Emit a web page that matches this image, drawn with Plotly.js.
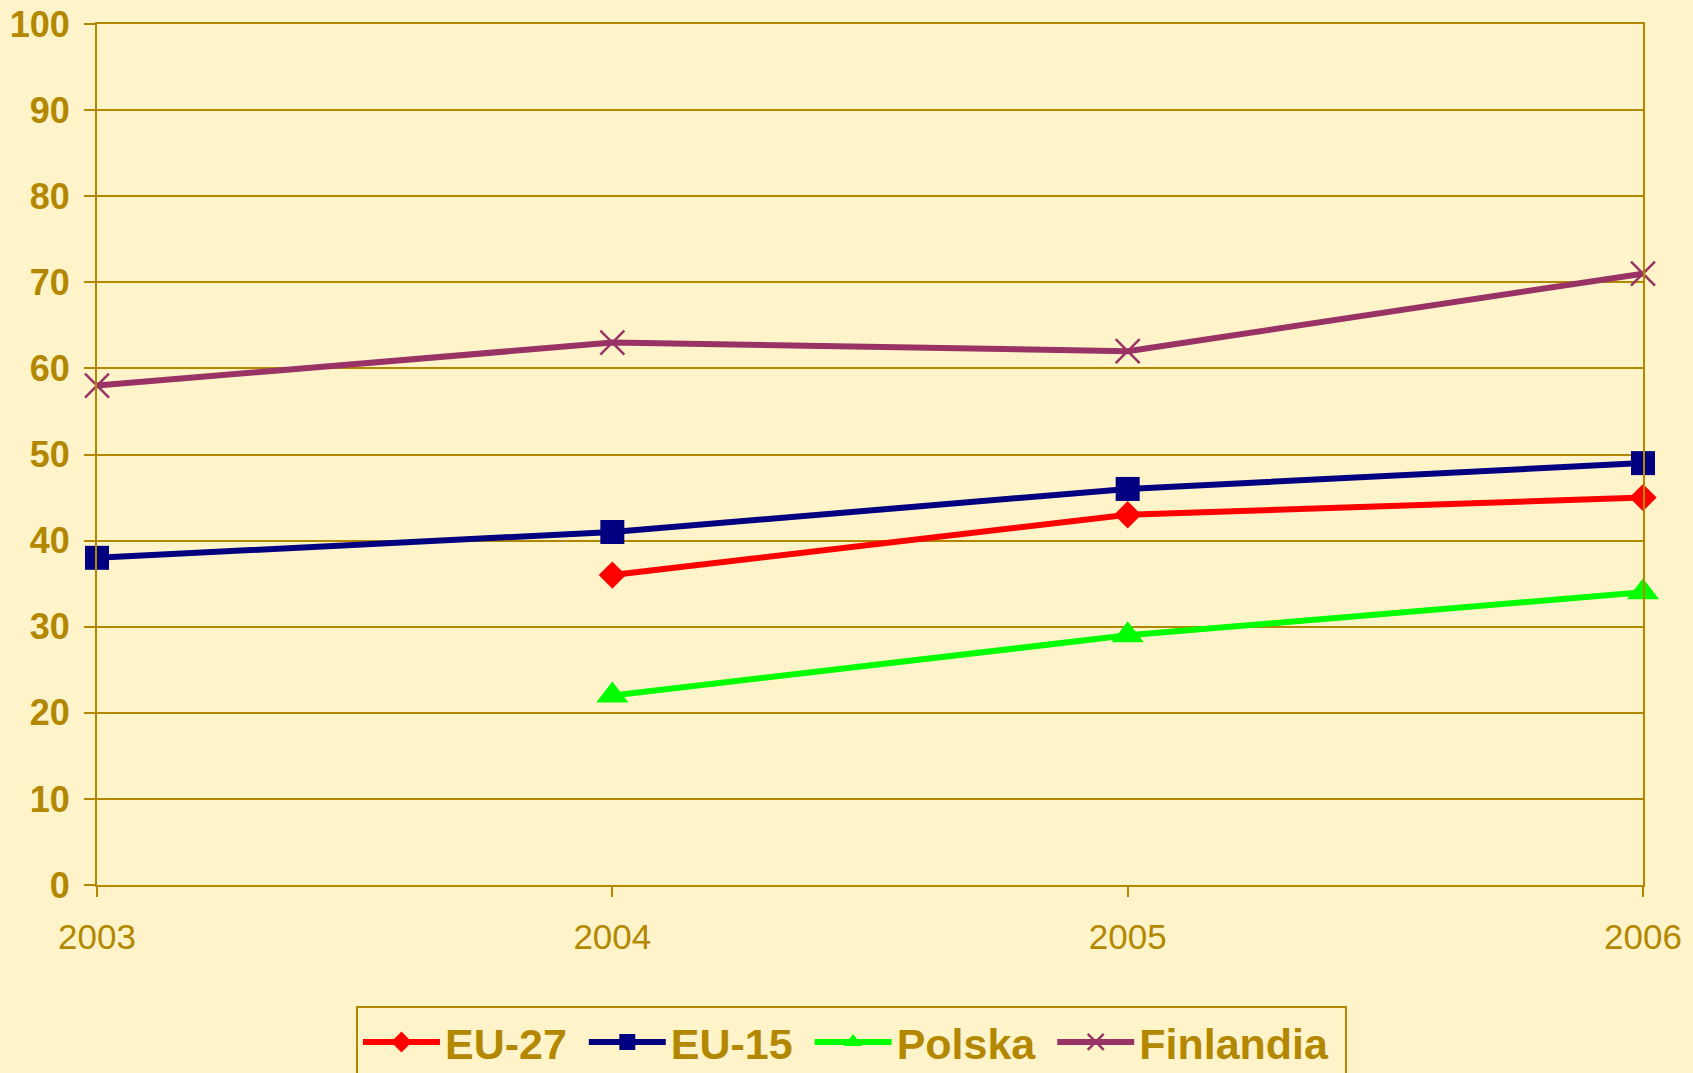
<!DOCTYPE html>
<html>
<head>
<meta charset="utf-8">
<script src="https://cdn.plot.ly/plotly-3.0.1.min.js"></script>
<style>
  html, body { margin: 0; padding: 0; background: #FFF4C9; }
  #chart { width: 1693px; height: 1073px; }
</style>
</head>
<body>
<div id="chart"></div>
<script>
const years = [2003, 2004, 2005, 2006];
const eu27 = [null, 36, 43, 45];
const eu15 = [38, 41, 46, 49];
const polska = [null, 22, 29, 34];
const finlandia = [58, 63, 62, 71];
const yTicks = [0, 10, 20, 30, 40, 50, 60, 70, 80, 90, 100];
const names = ['EU-27', 'EU-15', 'Polska', 'Finlandia'];

const gold = '#B38800';
const bg = '#FFF4C9';

function series(name, y, color, symbol, size, mlw) {
  return {
    type: 'scatter', mode: 'lines+markers', name: name + '\u00A0',
    x: years, y: y, cliponaxis: false, connectgaps: false,
    line: { color: color, width: 6 },
    marker: { color: color, symbol: symbol, size: size, line: { color: color, width: mlw } }
  };
}

const data = [
  series(names[0], eu27, '#FF0000', 'diamond', 21, 0),
  series(names[1], eu15, '#000080', 'square', 24, 0),
  series(names[2], polska, '#00FF00', 'triangle-up', 28, 0),
  series(names[3], finlandia, '#993366', 'x-thin', 24, 2.5)
];

const layout = {
  width: 1693, height: 1073,
  paper_bgcolor: bg, plot_bgcolor: bg,
  margin: { l: 97, r: 50, t: 24, b: 188, pad: 0, autoexpand: false },
  showlegend: true,
  xaxis: {
    range: [2003, 2006], tickvals: years, ticktext: years.map(String),
    showgrid: false, zeroline: false,
    showline: true, linecolor: gold, linewidth: 2, mirror: true,
    ticks: 'outside', ticklen: 10, tickwidth: 2, tickcolor: gold,
    ticklabelstandoff: 10,
    tickfont: { family: 'Liberation Sans, Arial, sans-serif', size: 35, color: gold }
  },
  yaxis: {
    range: [0, 100], tickvals: yTicks,
    showgrid: true, gridcolor: gold, gridwidth: 2, zeroline: false,
    showline: true, linecolor: gold, linewidth: 2, mirror: true,
    ticks: 'outside', ticklen: 11, tickwidth: 2, tickcolor: gold,
    ticklabelstandoff: 7,
    tickfont: { family: 'Liberation Sans, Arial, sans-serif', size: 36, color: gold, weight: 'bold' }
  },
  legend: {
    orientation: 'h', x: 0.1675, xanchor: 'left', y: -0.140, yanchor: 'top',
    bgcolor: bg, bordercolor: gold, borderwidth: 2,
    itemwidth: 77,
    font: { family: 'Liberation Sans, Arial, sans-serif', size: 43, color: gold, weight: 'bold' }
  }
};

Plotly.newPlot('chart', data, layout, { displayModeBar: false, staticPlot: true });
</script>
</body>
</html>
